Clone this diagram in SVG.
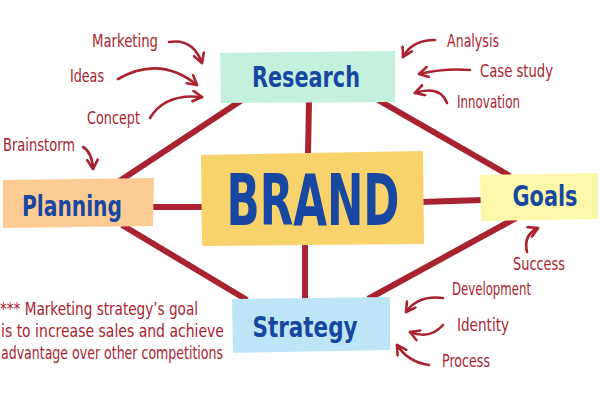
<svg xmlns="http://www.w3.org/2000/svg" width="600" height="400" viewBox="0 0 600 400">
<style>
.conn{stroke:#a8232f;stroke-width:6;fill:none;stroke-linecap:butt}
.arr{stroke:#a8232f;stroke-width:2.6;fill:none;stroke-linecap:round;marker-end:url(#ah)}
.lbl{font-family:"DejaVu Sans Condensed","Liberation Sans Narrow","Liberation Sans",sans-serif;font-size:18px;fill:#a8232f}
.note{font-size:17px}
.node{font-family:"DejaVu Sans Condensed","Liberation Sans Narrow","Liberation Sans",sans-serif;font-weight:bold;fill:#1747a0;text-anchor:middle}
</style>
<defs>
<marker id="ah" viewBox="0 0 10 10" refX="8" refY="5" markerWidth="5" markerHeight="5" orient="auto" markerUnits="strokeWidth">
<path d="M1,1 L8,5 L1,9" fill="none" stroke="#a8232f" stroke-width="2" stroke-linecap="round" stroke-linejoin="round"/>
</marker>
</defs>
<rect width="600" height="400" fill="#ffffff"/>
<g id="connectors">
<line class="conn" x1="242" y1="100" x2="118" y2="182"/>
<line class="conn" x1="309" y1="100" x2="308" y2="155"/>
<line class="conn" x1="378" y1="100" x2="510" y2="176"/>
<line class="conn" x1="150" y1="207" x2="203" y2="207"/>
<line class="conn" x1="420" y1="202" x2="483" y2="200"/>
<line class="conn" x1="122" y1="225" x2="247" y2="300"/>
<line class="conn" x1="305" y1="243" x2="305" y2="300"/>
<line class="conn" x1="516" y1="218" x2="368" y2="299"/>
</g>
<g id="research">
<polygon points="220,53 395,51 395,102 221,103" fill="#c4f1de"/>
<text class="node" x="306" y="87" font-size="28" textLength="108" lengthAdjust="spacingAndGlyphs">Research</text>
</g>
<g id="brand">
<polygon points="201,155 423,151 424,244 202,246" fill="#f8d36c"/>
<text class="node" x="313" y="225" font-size="72" textLength="173" lengthAdjust="spacingAndGlyphs">BRAND</text>
</g>
<g id="planning">
<polygon points="3,180 154,178 153,226 3,228" fill="#fecb95"/>
<text class="node" x="72" y="216" font-size="28" textLength="100" lengthAdjust="spacingAndGlyphs">Planning</text>
</g>
<g id="goals">
<polygon points="480,175 598,173 598,219 481,221" fill="#fcf8a9"/>
<text class="node" x="545" y="206" font-size="28" textLength="65" lengthAdjust="spacingAndGlyphs">Goals</text>
</g>
<g id="strategy">
<polygon points="232,299 390,297 390,350 233,353" fill="#bde5f5"/>
<text class="node" x="305" y="337" font-size="28" textLength="105" lengthAdjust="spacingAndGlyphs">Strategy</text>
</g>
<g id="arrows">
<path class="arr" d="M169,42 Q193,38 202,63"/>
<path class="arr" d="M118,79 Q160,55 197,85"/>
<path class="arr" d="M150,118 Q165,93 202,97"/>
<path class="arr" d="M83,147 Q92,152 93,169"/>
<path class="arr" d="M435,40 Q412,40 403,57"/>
<path class="arr" d="M470,70 Q445,68 419,74"/>
<path class="arr" d="M447,103 Q440,85 415,93"/>
<path class="arr" d="M527,252 Q523,235 538,228"/>
<path class="arr" d="M443,298 Q418,295 406,312"/>
<path class="arr" d="M443,325 Q430,340 410,332"/>
<path class="arr" d="M429,365 Q408,362 397,345"/>
</g>
<g id="labels">
<text class="lbl" x="92" y="47" textLength="66" lengthAdjust="spacingAndGlyphs">Marketing</text>
<text class="lbl" x="70" y="82" textLength="34" lengthAdjust="spacingAndGlyphs">Ideas</text>
<text class="lbl" x="87" y="124" textLength="53" lengthAdjust="spacingAndGlyphs">Concept</text>
<text class="lbl" x="3" y="151" textLength="72" lengthAdjust="spacingAndGlyphs">Brainstorm</text>
<text class="lbl" x="447" y="47" textLength="52" lengthAdjust="spacingAndGlyphs">Analysis</text>
<text class="lbl" x="480" y="77" textLength="73" lengthAdjust="spacingAndGlyphs">Case study</text>
<text class="lbl" x="457" y="108" textLength="63" lengthAdjust="spacingAndGlyphs">Innovation</text>
<text class="lbl" x="513" y="270" textLength="52" lengthAdjust="spacingAndGlyphs">Success</text>
<text class="lbl" x="452" y="295" textLength="79" lengthAdjust="spacingAndGlyphs">Development</text>
<text class="lbl" x="457" y="331" textLength="52" lengthAdjust="spacingAndGlyphs">Identity</text>
<text class="lbl" x="442" y="367" textLength="48" lengthAdjust="spacingAndGlyphs">Process</text>
<text class="lbl note" x="0" y="315" textLength="198" lengthAdjust="spacingAndGlyphs">*** Marketing strategy’s goal</text>
<text class="lbl note" x="1" y="337" textLength="223" lengthAdjust="spacingAndGlyphs">is to increase sales and achieve</text>
<text class="lbl note" x="1" y="359" textLength="222" lengthAdjust="spacingAndGlyphs">advantage over other competitions</text>
</g>
</svg>
